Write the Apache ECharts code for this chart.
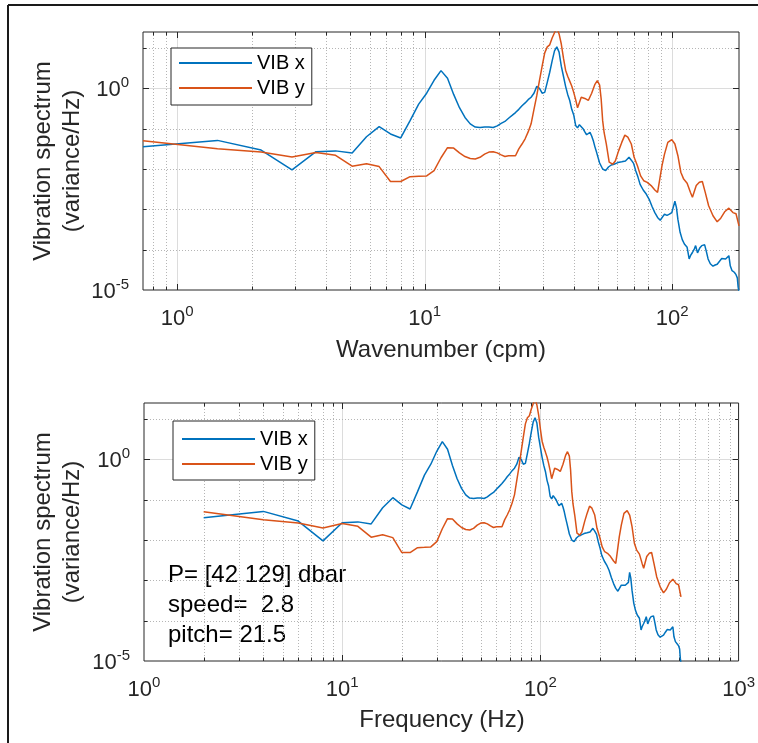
<!DOCTYPE html>
<html>
<head>
<meta charset="utf-8">
<script src="https://cdn.jsdelivr.net/npm/echarts@6/dist/echarts.min.js"></script>
<style>
html, body { margin: 0; padding: 0; background: #fff; }
#chart { width: 758px; height: 743px; }
</style>
</head>
<body>
<div id="chart"></div>
<script>
// ---------------- data ----------------
const seriesNames = ['VIB x', 'VIB y'];

// VIB x: frequency (Hz) and log10 of spectrum (variance/Hz)
const freqX = [2,4,6,8,10,12,14,16,18,20,22,24,26,28,30,32,34,36,38,40,42,44,46,48,50,52,54,56,58,60,62,64,66,68,70,72,74,76,78,80,82,84,86,88,90,92,94,96,98,100,102,104,106,108,110,112,114,116,118,120,122,124,126,128,130,132,134,136,140,144,148,152,156,160,166,172,178,184,188,192,196,200,204,210,216,222,228,234,240,246,250,256,262,268,274,278,282,286,290,296,302,308,316,322,326,332,338,342,348,352,356,362,372,378,384,392,402,410,418,428,436,444,452,460,466,472,480,490,498,504,508,512];
const vibXLog10 = [-1.45,-1.29,-1.53,-2.02,-1.57,-1.55,-1.60,-1.20,-0.95,-1.13,-1.23,-0.80,-0.39,-0.12,0.20,0.44,0.25,-0.15,-0.48,-0.72,-0.88,-0.96,-0.97,-0.96,-0.96,-0.97,-0.93,-0.87,-0.82,-0.74,-0.67,-0.60,-0.52,-0.43,-0.36,-0.28,-0.22,-0.12,0.05,0.00,-0.12,-0.10,0.15,0.40,0.68,0.93,1.03,0.90,0.55,0.30,0.05,-0.15,-0.30,-0.52,-0.66,-0.92,-0.98,-0.90,-0.88,-1.00,-1.08,-1.15,-1.12,-1.09,-1.18,-1.30,-1.45,-1.58,-1.85,-2.00,-2.04,-1.95,-1.90,-1.88,-1.84,-1.82,-1.80,-1.71,-1.78,-1.86,-2.05,-2.20,-2.38,-2.52,-2.62,-2.75,-2.93,-3.08,-3.20,-3.27,-3.25,-3.12,-3.15,-3.12,-3.08,-3.05,-2.80,-2.95,-3.25,-3.57,-3.75,-3.86,-3.94,-4.23,-4.15,-4.07,-3.98,-3.90,-4.08,-4.05,-3.95,-3.90,-3.88,-4.05,-4.23,-4.35,-4.41,-4.38,-4.36,-4.28,-4.22,-4.25,-4.23,-4.20,-4.15,-4.40,-4.52,-4.56,-4.62,-4.70,-4.93,-5.05];

// VIB y: frequency (Hz) and log10 of spectrum (variance/Hz)
const freqY = [2,4,6,8,10,12,14,16,18,20,22,24,26,28,30,32,34,36,38,40,42,44,46,48,50,52,54,56,58,60,62,64,66,68,70,72,74,76,78,80,82,84,86,88,90,92,94,96,98,100,102,104,106,108,110,112,114,116,118,122,126,130,134,137,140,142,144,146,149,153,158,162,167,172,177,182,188,193,199,205,211,218,226,234,240,245,250,256,264,274,282,290,298,306,316,326,332,338,344,354,364,374,386,402,418,432,448,466,484,498,506,512];
const vibYLog10 = [-1.30,-1.50,-1.58,-1.70,-1.59,-1.66,-1.93,-1.87,-1.94,-2.31,-2.31,-2.19,-2.18,-2.17,-2.04,-1.72,-1.47,-1.48,-1.60,-1.69,-1.74,-1.75,-1.71,-1.63,-1.58,-1.57,-1.60,-1.65,-1.69,-1.67,-1.67,-1.67,-1.50,-1.38,-1.25,-1.08,-0.88,-0.52,-0.18,0.20,0.55,0.88,1.03,1.08,1.25,1.38,1.50,1.35,1.10,0.75,0.45,0.30,0.18,0.06,-0.10,-0.28,-0.48,-0.35,-0.22,-0.25,-0.30,-0.12,0.10,0.19,0.08,-0.26,-0.80,-1.10,-1.38,-1.83,-1.88,-1.80,-1.55,-1.34,-1.16,-1.21,-1.38,-1.71,-1.92,-2.17,-2.29,-2.33,-2.41,-2.52,-2.58,-2.25,-1.92,-1.63,-1.34,-1.27,-1.38,-1.67,-2.08,-2.25,-2.35,-2.58,-2.70,-2.55,-2.41,-2.33,-2.31,-2.58,-2.91,-3.16,-3.31,-3.22,-3.06,-2.97,-3.08,-3.11,-3.15,-3.41];

// profiler speed used to convert frequency to wavenumber (shown rounded as 2.8)
const speed = 2.75;
const freqLimits = [1, 1000];
const specLimits = [1e-5, 25];

// tick values
const topXMajorTicks = [1, 10, 100];
const topXMinorTicks = [0.8, 0.9, 2, 3, 4, 5, 6, 7, 8, 9, 20, 30, 40, 50, 60, 70, 80, 90];
const bottomXMajorTicks = [10, 100];
const bottomXMinorTicks = [2, 3, 4, 5, 6, 7, 8, 9, 20, 30, 40, 50, 60, 70, 80, 90, 200, 300, 400, 500, 600, 700, 800, 900];
const yMajorTicks = [1];
const yMinorTicks = [1e-4, 1e-3, 1e-2, 1e-1, 10];
const yLabelEvery = 5; // labelled decades: 10^-5, 10^0

// texts
const xTitles = ['Wavenumber (cpm)', 'Frequency (Hz)'];
const yTitle = 'Vibration spectrum\n(variance/Hz)';
const annotationLines = ['P= [42 129] dbar', 'speed=  2.8', 'pitch= 21.5'];

// ---------------- styling ----------------
const FONT = '"Liberation Sans", Arial, Helvetica, sans-serif';
const AXIS_COLOR = '#262626';
const BLUE = '#0072BD';
const ORANGE = '#D95319';

const topWave = freqX.map(function (f, i) { return [f / speed, Math.pow(10, vibXLog10[i])]; });
const topWaveY = freqY.map(function (f, i) { return [f / speed, Math.pow(10, vibYLog10[i])]; });
const botX = freqX.map(function (f, i) { return [f, Math.pow(10, vibXLog10[i])]; });
const botY = freqY.map(function (f, i) { return [f, Math.pow(10, vibYLog10[i])]; });
const waveLimits = [freqX[0] / speed, freqX[freqX.length - 1] / speed];

function guideData(xMajor, xMinor) {
  const d = [];
  xMinor.forEach(function (v) { d.push([v, 1, 0]); });
  xMajor.forEach(function (v) { d.push([v, 1, 1]); });
  yMinorTicks.forEach(function (v) { d.push([10, v, 2]); });
  yMajorTicks.forEach(function (v) { d.push([10, v, 3]); });
  return d;
}

function renderGuides(params, api) {
  const cs = params.coordSys;
  const kind = api.value(2);
  const pt = api.coord([api.value(0), api.value(1)]);
  const major = (kind === 1 || kind === 3);
  const tickLen = major ? 6 : 3.5;
  const gridStyle = major
    ? { stroke: '#dcdcdc', lineWidth: 1 }
    : { stroke: '#b5b5b5', lineWidth: 1, lineDash: [1, 2] };
  const tickStyle = { stroke: AXIS_COLOR, lineWidth: 1 };
  const ch = [];
  if (kind < 2) {
    const x = Math.round(pt[0]) + 0.5;
    const y0 = cs.y, y1 = cs.y + cs.height;
    ch.push({ type: 'line', shape: { x1: x, y1: y0, x2: x, y2: y1 }, style: gridStyle });
    ch.push({ type: 'line', shape: { x1: x, y1: y1, x2: x, y2: y1 - tickLen }, style: tickStyle });
    ch.push({ type: 'line', shape: { x1: x, y1: y0, x2: x, y2: y0 + tickLen }, style: tickStyle });
  } else {
    const y = Math.round(pt[1]) + 0.5;
    const x0 = cs.x, x1 = cs.x + cs.width;
    ch.push({ type: 'line', shape: { x1: x0, y1: y, x2: x1, y2: y }, style: gridStyle });
    ch.push({ type: 'line', shape: { x1: x0, y1: y, x2: x0 + tickLen, y2: y }, style: tickStyle });
    ch.push({ type: 'line', shape: { x1: x1, y1: y, x2: x1 - tickLen, y2: y }, style: tickStyle });
  }
  return { type: 'group', children: ch };
}

function powLabel(v) {
  const e = Math.log10(v);
  const r = Math.round(e);
  if (Math.abs(e - r) > 1e-6) return '';
  return '{b|10}{s|' + r + '}';
}
function powLabelY(v) {
  const e = Math.log10(v);
  const r = Math.round(e);
  if (Math.abs(e - r) > 1e-6 || r % yLabelEvery !== 0) return '';
  return '{b|10}{s|' + r + '}';
}
const rich = {
  b: { fontSize: 22, fontFamily: FONT, color: AXIS_COLOR, lineHeight: 26, verticalAlign: 'bottom' },
  s: { fontSize: 15, fontFamily: FONT, color: AXIS_COLOR, lineHeight: 14, verticalAlign: 'top' }
};

function xAxisCfg(gridIndex, lim) {
  return {
    gridIndex: gridIndex, type: 'log', logBase: 10, min: lim[0], max: lim[1],
    axisLine: { show: false }, axisTick: { show: false }, splitLine: { show: false },
    axisLabel: { formatter: powLabel, rich: rich, margin: 14, showMinLabel: true, showMaxLabel: true, hideOverlap: false }
  };
}
function yAxisCfg(gridIndex) {
  return {
    gridIndex: gridIndex, type: 'log', logBase: 10, min: specLimits[0], max: specLimits[1],
    axisLine: { show: false }, axisTick: { show: false }, splitLine: { show: false },
    axisLabel: { formatter: powLabelY, rich: rich, margin: 14, hideOverlap: false }
  };
}

function legendCfg(left, top, pad) {
  return {
    data: seriesNames, orient: 'vertical', left: left, top: top,
    itemWidth: 73, itemHeight: 14, itemGap: 5, padding: pad,
    borderColor: AXIS_COLOR, borderWidth: 1, backgroundColor: '#fff',
    selectedMode: false, z: 10,
    itemStyle: { opacity: 0, borderWidth: 0 },
    textStyle: { fontSize: 20, fontFamily: FONT, color: '#000', lineHeight: 20 }
  };
}

function lineSeries(name, xi, data, color) {
  return {
    type: 'line', name: name, xAxisIndex: xi, yAxisIndex: xi, data: data,
    symbol: 'none', showSymbol: false, clip: true, silent: true, z: 3,
    lineStyle: { width: 1.5, color: color }, itemStyle: { color: color }
  };
}

const chart = echarts.init(document.getElementById('chart'), null, { renderer: 'canvas' });
chart.setOption({
  animation: false,
  backgroundColor: '#fff',
  textStyle: { fontFamily: FONT },
  grid: [
    { left: 143, top: 32, width: 596, height: 258, show: true, borderColor: AXIS_COLOR, borderWidth: 1, backgroundColor: '#fff' },
    { left: 144, top: 403, width: 596, height: 258, show: true, borderColor: AXIS_COLOR, borderWidth: 1, backgroundColor: '#fff' }
  ],
  xAxis: [xAxisCfg(0, waveLimits), xAxisCfg(1, freqLimits)],
  yAxis: [yAxisCfg(0), yAxisCfg(1)],
  legend: [legendCfg(171, 48, [5, 7, 7, 7]), legendCfg(173, 421, [8, 7, 6, 8])],
  series: [
    { type: 'custom', xAxisIndex: 0, yAxisIndex: 0, data: guideData(topXMajorTicks, topXMinorTicks), renderItem: renderGuides, silent: true, z: 1 },
    { type: 'custom', xAxisIndex: 1, yAxisIndex: 1, data: guideData(bottomXMajorTicks, bottomXMinorTicks), renderItem: renderGuides, silent: true, z: 1 },
    lineSeries(seriesNames[0], 0, topWave, BLUE),
    lineSeries(seriesNames[1], 0, topWaveY, ORANGE),
    lineSeries(seriesNames[0], 1, botX, BLUE),
    lineSeries(seriesNames[1], 1, botY, ORANGE)
  ],
  graphic: [
    { type: 'line', shape: { x1: 8, y1: 5, x2: 758, y2: 5 }, style: { stroke: '#1a1a1a', lineWidth: 2 }, silent: true },
    { type: 'line', shape: { x1: 8, y1: 5, x2: 8, y2: 743 }, style: { stroke: '#1a1a1a', lineWidth: 2 }, silent: true },
    { type: 'text', x: 441, y: 350, silent: true, style: { text: xTitles[0], fontSize: 24, fontFamily: FONT, fill: AXIS_COLOR, align: 'center', verticalAlign: 'middle' } },
    { type: 'text', x: 442, y: 720, silent: true, style: { text: xTitles[1], fontSize: 24, fontFamily: FONT, fill: AXIS_COLOR, align: 'center', verticalAlign: 'middle' } },
    { type: 'text', x: 58, y: 161, rotation: Math.PI / 2, silent: true, style: { text: yTitle, fontSize: 24, fontFamily: FONT, fill: AXIS_COLOR, align: 'center', verticalAlign: 'middle', lineHeight: 29 } },
    { type: 'text', x: 58, y: 532, rotation: Math.PI / 2, silent: true, style: { text: yTitle, fontSize: 24, fontFamily: FONT, fill: AXIS_COLOR, align: 'center', verticalAlign: 'middle', lineHeight: 29 } },
    { type: 'text', x: 168, y: 575, silent: true, style: { text: annotationLines[0], fontSize: 24, fontFamily: FONT, fill: '#000', align: 'left', verticalAlign: 'middle' } },
    { type: 'text', x: 168, y: 605, silent: true, style: { text: annotationLines[1], fontSize: 24, fontFamily: FONT, fill: '#000', align: 'left', verticalAlign: 'middle' } },
    { type: 'text', x: 168, y: 635, silent: true, style: { text: annotationLines[2], fontSize: 24, fontFamily: FONT, fill: '#000', align: 'left', verticalAlign: 'middle' } }
  ]
});
</script>
</body>
</html>
